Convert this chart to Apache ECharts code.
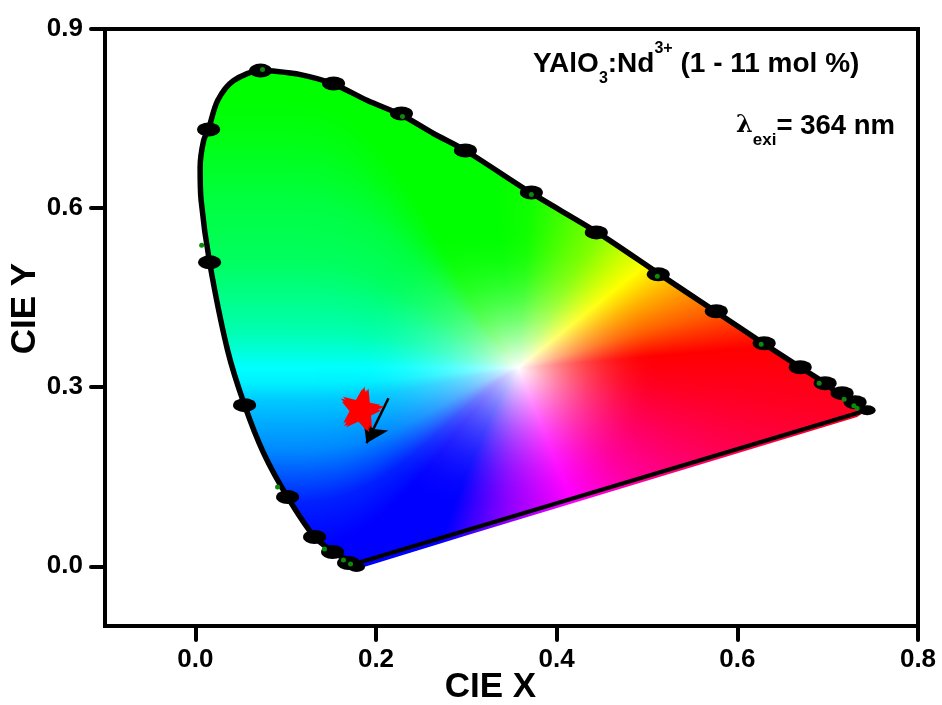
<!DOCTYPE html>
<html>
<head>
<meta charset="utf-8">
<style>html,body{margin:0;padding:0;background:#fff}#c{width:942px;height:705px}</style>
<script src="https://cdn.jsdelivr.net/npm/echarts@6/dist/echarts.min.js"></script>
</head>
<body>
<div id="c"></div>
<script>
// Spectral locus
const locusX = [.1795,.1663,.1530,.1320,.1021,.0756,.0545,.0357,.0158,.0064,.0053,.0092,.0147,.0247,.0424,.0722,.0866,.1165,.1519,.1906,.2293,.2636,.2990,.3709,.4450,.5125,.5755,.6286,.6696,.6972,.7171,.7437];
const locusY = [.0055,.0122,.0239,.0490,.1159,.1896,.2699,.3619,.5091,.6128,.6681,.7133,.7333,.7802,.8136,.8303,.8295,.8236,.8086,.7802,.7551,.7250,.6965,.6262,.5593,.4907,.4271,.3736,.3335,.3067,.2833,.2615];
// Purple line
const purpleX = [.1795,.7359];
const purpleY = [.0055,.2581];
// Lower rim of the colour area, just below the purple line
const rimX = [.7326,.3045,.1795];
const rimY = [.2500,.0535,-.0045];
// Blobs on the locus
const blobX = [.0722,.1530,.2282,.2990,.3720,.4439,.5125,.5767,.6297,.6696,.6972,.7160,.7304,.0147,.0158,.0545,.1021,.1320,.1519,.1696];
const blobY = [.8303,.8086,.7584,.6965,.6262,.5593,.4890,.4271,.3736,.3335,.3067,.2900,.2749,.7316,.5091,.2699,.1159,.0490,.0239,.0055];
const tipX = [.1784,.7437];
const tipY = [-.0012,.2615];
// Green dots
const dotX = [.0744,.2293,.3720,.5114,.6264,.0070,.0910,.1430,.1640,.1718,.6906,.7182,.7326,.7290];
const dotY = [.8320,.7534,.6229,.4857,.3719,.5376,.1327,.0290,.0105,.0038,.3067,.2799,.2649,.2690];
// Measured CIE coordinates (red stars)
const starX = [.1851,.1817,.1873,.1840,.1806,.1830];
const starY = [.2652,.2618,.2669,.2602,.2669,.2700];
// Arrow
const arrowFrom = [.2138,.2816];
const arrowTo = [.1895,.2063];
// White point of the colour area
const whitePoint = [.357,.333];
// Axis ticks
const xTicks = [0,.2,.4,.6,.8];
const yTicks = [0,.3,.6,.9];

// Colour around the white point: direction in degrees and the fully saturated colour
const hueStops = [
 [-180,'#00ffff'],[-177,'#00f0ff'],[-173.5,'#00c8ff'],[-164,'#0088ff'],[-155,'#0020ff'],[-148,'#0000ff'],
 [-128,'#0000ff'],[-118,'#3000ff'],[-106,'#6000ff'],[-90,'#a000ff'],[-68,'#ff00ff'],[-45,'#ff00a0'],[-26,'#ff0060'],[-7,'#ff0020'],[5,'#ff0000'],
 [16,'#ff6000'],[28,'#ffb000'],[39,'#ffff00'],[59,'#80ff00'],[86,'#10ff00'],[100,'#00ff00'],[137,'#00ff00'],[141,'#00ff10'],
 [150,'#00ff40'],[160,'#00ff60'],[172.7,'#00ffb0'],[176.6,'#00ffd8'],[180,'#00ffff']
];
const stops = hueStops.map(s => [s[0], parseInt(s[1].slice(1,3),16), parseInt(s[1].slice(3,5),16), parseInt(s[1].slice(5,7),16)]);
function hueAt(a){
  for(let i=1;i<stops.length;i++){
    if(a<=stops[i][0]){
      const p=stops[i-1],q=stops[i],t=(a-p[0])/(q[0]-p[0]);
      return [p[1]+(q[1]-p[1])*t,p[2]+(q[2]-p[2])*t,p[3]+(q[3]-p[3])*t];
    }
  }
  return stops[stops.length-1].slice(1);
}
const clamp01 = v => Math.max(0,Math.min(1,v));
const smooth01 = v => { const t=clamp01(v); return t*t*(3-2*t); };
let areaCanvas = null;
function buildArea(api){
  const W=api.getWidth(), H=api.getHeight();
  const cv=document.createElement('canvas'); cv.width=W; cv.height=H;
  const ctx=cv.getContext('2d');
  const img=ctx.createImageData(W,H);
  const wp=api.coord(whitePoint);
  for(let py=0;py<H;py++){
    for(let px=0;px<W;px++){
      const dx=px-wp[0], dy=wp[1]-py, r=Math.hypot(dx,dy);
      let vx=dx;
      if(dx<0){ const w=smooth01(-dx/230); vx=-290*w+dx*(1-w); }
      const a=Math.atan2(dy,vx)*180/Math.PI;
      const c=hueAt(a);
      const reach=140+25*smooth01(-dx/120);
      const s=clamp01(r/reach), t=1-(1-s)*(1-s);
      const k=(py*W+px)*4;
      img.data[k]=255+(c[0]-255)*t;
      img.data[k+1]=255+(c[1]-255)*t;
      img.data[k+2]=255+(c[2]-255)*t;
      img.data[k+3]=255;
    }
  }
  ctx.putImageData(img,0,0);
  ctx.globalCompositeOperation='destination-in';
  ctx.beginPath();
  locusX.concat(rimX).forEach((x,i)=>{
    const y=locusY.concat(rimY)[i], p=api.coord([x,y]);
    i?ctx.lineTo(p[0],p[1]):ctx.moveTo(p[0],p[1]);
  });
  ctx.closePath(); ctx.fill();
  return cv;
}
const zip=(a,b)=>a.map((v,i)=>[v,b[i]]);
const F='"Liberation Sans",Arial,sans-serif';
const starPath='path://M50 0L61.8 35.5L98.1 34.5L69 56.5L79.4 90.5L50 70L20.6 90.5L31 56.5L1.9 34.5L38.2 35.5Z';
const axisBase={
  axisLine:{show:true,onZero:false,lineStyle:{color:'#000',width:4}},
  splitLine:{show:false},
  nameLocation:'middle',
  nameMoveOverlap:false
};
const chart=echarts.init(document.getElementById('c'),null,{renderer:'canvas'});
chart.setOption({
  animation:false,
  backgroundColor:'#fff',
  title:[
   {left:533,top:41,padding:0,text:'{a|YAlO}{s|3}{a|:Nd}{p|3+}{a| (1 - 11 mol %)}',
    textStyle:{rich:{
      a:{fontFamily:F,fontWeight:'bold',fontSize:28,color:'#000',lineHeight:46,verticalAlign:'middle'},
      s:{fontFamily:F,fontWeight:'bold',fontSize:16,color:'#000',lineHeight:12,verticalAlign:'bottom'},
      p:{fontFamily:F,fontWeight:'bold',fontSize:16,color:'#000',lineHeight:22,verticalAlign:'top'}
    }}},
   {left:736,top:103,padding:0,text:'{l|λ}{s|exi}{a|= 364 nm}',
    textStyle:{rich:{
      a:{fontFamily:F,fontWeight:'bold',fontSize:27.5,color:'#000',lineHeight:46,verticalAlign:'middle'},
      l:{fontFamily:'"DejaVu Serif",serif',fontSize:24,color:'#000',lineHeight:46,verticalAlign:'middle'},
      s:{fontFamily:F,fontWeight:'bold',fontSize:17,color:'#000',lineHeight:14,verticalAlign:'bottom'}
    }}}
  ],
  grid:{left:105,right:24,top:29,bottom:79,outerBoundsMode:'none',containLabel:false,show:true,borderColor:'#000',borderWidth:4,backgroundColor:'transparent'},
  xAxis:Object.assign({},axisBase,{
    type:'value',min:-.1,max:.8,name:'CIE X',nameGap:44,
    nameTextStyle:{fontFamily:F,fontWeight:'bold',fontSize:35,color:'#000',padding:[0,42,0,0]},
    axisTick:{show:true,length:14,customValues:xTicks,lineStyle:{color:'#000',width:4,cap:'round'}},
    axisLabel:{show:true,customValues:xTicks,formatter:v=>v.toFixed(1),margin:21,fontFamily:F,fontWeight:'bold',fontSize:26,color:'#000'}
  }),
  yAxis:Object.assign({},axisBase,{
    type:'value',min:-.1,max:.9,name:'CIE Y',nameGap:62,
    nameTextStyle:{fontFamily:F,fontWeight:'bold',fontSize:35,color:'#000',padding:[0,0,0,38]},
    axisTick:{show:true,length:14,customValues:yTicks,lineStyle:{color:'#000',width:4,cap:'round'}},
    axisLabel:{show:true,customValues:yTicks,formatter:v=>v.toFixed(1),margin:22,fontFamily:F,fontWeight:'bold',fontSize:26,color:'#000'}
  }),
  series:[
   {type:'custom',coordinateSystem:'cartesian2d',silent:true,z:1,clip:false,data:[whitePoint],
    renderItem:(params,api)=>{
      if(!areaCanvas) areaCanvas=buildArea(api);
      return {type:'image',style:{image:areaCanvas,x:0,y:0,width:api.getWidth(),height:api.getHeight()}};
    }},
   {type:'line',z:3,data:zip(purpleX,purpleY),symbol:'none',lineStyle:{color:'#000',width:4}},
   {type:'line',z:3,data:zip(locusX,locusY),symbol:'none',smooth:.3,lineStyle:{color:'#000',width:5.5}},
   {type:'scatter',z:4,data:zip(blobX,blobY),symbol:'circle',symbolSize:[23,14],itemStyle:{color:'#000',opacity:1}},
   {type:'scatter',z:4,data:zip(tipX,tipY),symbol:'circle',symbolSize:[17,10],itemStyle:{color:'#000',opacity:1}},
   {type:'scatter',z:5,data:zip(dotX,dotY),symbol:'circle',symbolSize:5,itemStyle:{color:'#0c8a0c',opacity:1}},
   {type:'scatter',z:6,data:zip(starX,starY),symbol:starPath,symbolSize:38,symbolRotate:-12,itemStyle:{color:'#ff0000',opacity:1},
    markLine:{silent:true,animation:false,symbol:['none','arrow'],symbolSize:21,label:{show:false},
      lineStyle:{color:'#000',width:2.5,type:'solid'},
      data:[[{coord:arrowFrom},{coord:arrowTo}]]}}
  ]
});
</script>
</body>
</html>
